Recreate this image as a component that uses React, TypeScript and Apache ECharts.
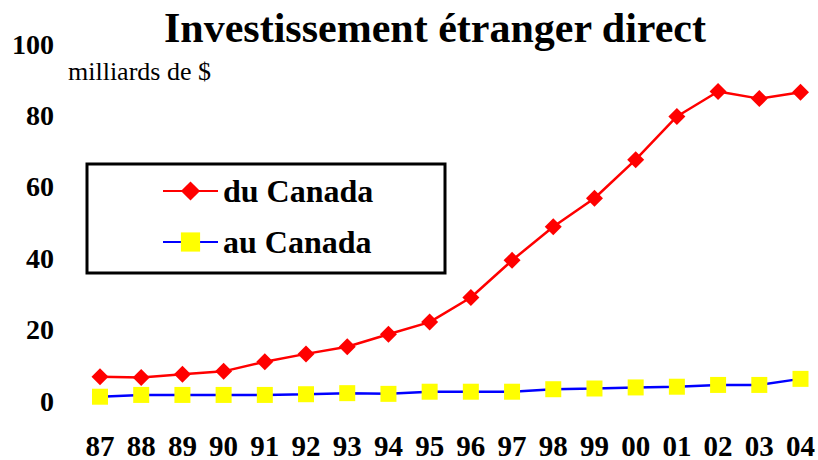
import React, { useEffect, useRef } from "react";
import * as echarts from "echarts";

const years = ["87","88","89","90","91","92","93","94","95","96","97","98","99","00","01","02","03","04"];
const duCanada = [6.8,6.6,7.5,8.3,11.0,13.2,15.2,18.7,22.1,29.0,39.4,48.8,56.8,67.6,79.7,86.7,84.7,86.5];
const auCanada = [1.2,1.7,1.7,1.7,1.7,1.9,2.2,2.0,2.6,2.6,2.6,3.3,3.5,3.8,4.0,4.5,4.5,6.2];
const yTicks = [0, 20, 40, 60, 80, 100];

const FONT = "Liberation Serif";

export default function App() {
  const ref = useRef<HTMLDivElement>(null);
  useEffect(() => {
    if (!ref.current) return;
    const chart = echarts.init(ref.current, undefined, { renderer: "svg" });
    chart.setOption({
      animation: false,
      backgroundColor: "#fff",
      textStyle: { fontFamily: FONT },
      title: [
        {
          text: "Investissement étranger direct",
          left: 430,
          textAlign: "center",
          top: 2,
          textStyle: { fontFamily: FONT, fontSize: 42, fontWeight: "bold", color: "#000" },
        },
        {
          text: "milliards de $",
          left: 68,
          top: 58,
          padding: 0,
          textStyle: { fontFamily: FONT, fontSize: 26, fontWeight: "normal", color: "#000" },
        },
      ],
      graphic: [
        {
          type: "rect",
          shape: { x: 87, y: 164, width: 358, height: 109 },
          style: { fill: "#fff", stroke: "#000", lineWidth: 3 },
          z: 5,
        },
      ],
      legend: {
        orient: "vertical",
        left: 157,
        top: 170,
        itemWidth: 55,
        itemHeight: 24,
        itemGap: 19,
        z: 10,
        textStyle: { fontFamily: FONT, fontSize: 32, fontWeight: "bold", color: "#000" },
        data: ["du Canada", "au Canada"],
      },
      grid: { left: 100, right: 16, top: 44, bottom: 59 },
      xAxis: {
        type: "category",
        data: years,
        boundaryGap: false,
        axisLine: { show: false },
        axisTick: { show: false },
        axisLabel: { margin: 30, fontFamily: FONT, fontSize: 29, fontWeight: "bold", color: "#000", interval: 0 },
      },
      yAxis: {
        type: "value",
        min: 0,
        max: 100,
        interval: 20,
        axisLine: { show: false },
        axisTick: { show: false },
        splitLine: { show: false },
        axisLabel: {
          margin: 46,
          fontFamily: FONT,
          fontSize: 28,
          fontWeight: "bold",
          color: "#000",
          formatter: (v: number) => (yTicks.includes(v) ? String(v) : ""),
        },
      },
      series: [
        {
          name: "du Canada",
          type: "line",
          data: duCanada,
          symbol: "diamond",
          symbolSize: 17,
          lineStyle: { color: "#ff0000", width: 2.5 },
          itemStyle: { color: "#ff0000" },
          z: 3,
        },
        {
          name: "au Canada",
          type: "line",
          data: auCanada,
          symbol: "rect",
          symbolSize: 16,
          lineStyle: { color: "#0000ff", width: 2.5 },
          itemStyle: { color: "#ffff00" },
          z: 2,
        },
      ],
    });
    return () => chart.dispose();
  }, []);
  return <div ref={ref} style={{ width: 818, height: 460, position: "absolute", left: 0, top: 0 }} />;
}
